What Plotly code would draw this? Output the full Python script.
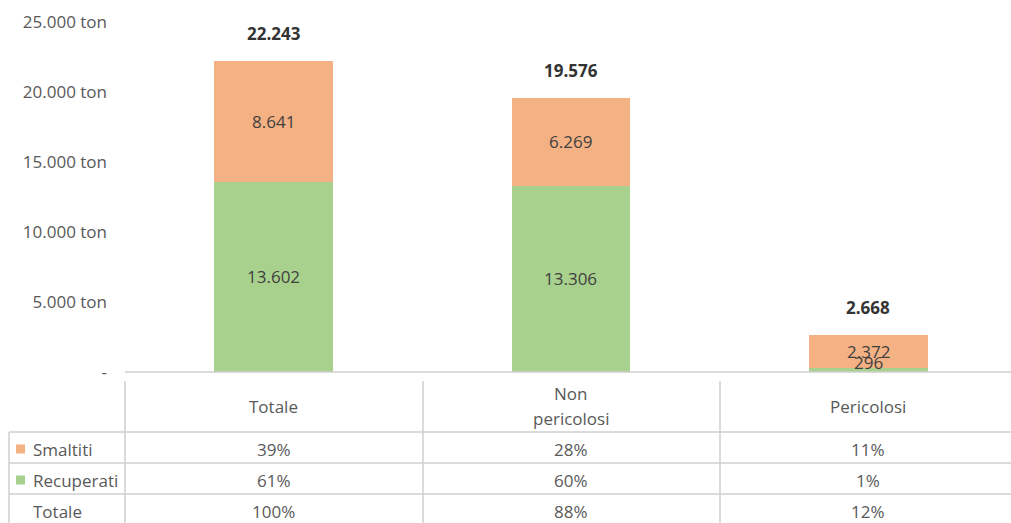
import plotly.graph_objects as go

categories = ["Totale", "Non pericolosi", "Pericolosi"]
header_labels = ["Totale", "Non<br>pericolosi", "Pericolosi"]
recuperati = [13602, 13306, 296]
smaltiti = [8641, 6269, 2372]
totali = [22243, 19576, 2668]
row_names = ["Smaltiti", "Recuperati", "Totale"]
pct_smaltiti = ["39%", "28%", "11%"]
pct_recuperati = ["61%", "60%", "1%"]
pct_totale = ["100%", "88%", "12%"]
tick_vals = [0, 5000, 10000, 15000, 20000, 25000]
tick_text = ["-", "5.000 ton", "10.000 ton", "15.000 ton", "20.000 ton", "25.000 ton"]

ORANGE = "#F4B183"
GREEN = "#A9D18E"
GRID = "#CFCFCF"
TXT = "#595959"
DARK = "#404040"
FONT = "Open Sans"

W, H = 1011, 523
L, R, T, B = 125, 0, 22, 151
PW = W - L - R
PH = H - T - B


def fmt(v):
    return f"{v:,}".replace(",", ".")


def py(p):  # pixel y -> paper y
    return (H - B - p) / PH


def px(p):  # pixel x -> paper x
    return (p - L) / PW


fig = go.Figure()
fig.add_trace(go.Bar(x=categories, y=recuperati, name="Recuperati",
                     marker=dict(color=GREEN, line=dict(width=0)), width=0.4,
                     hoverinfo="skip"))
fig.add_trace(go.Bar(x=categories, y=smaltiti, name="Smaltiti",
                     marker=dict(color=ORANGE, line=dict(width=0)), width=0.4,
                     hoverinfo="skip"))

ann = []
shapes = []


def txt(x, y, text, xref="x", yref="paper", size=17, color=TXT, xanchor="center"):
    return dict(x=x, y=y, xref=xref, yref=yref, text=text, showarrow=False,
                xanchor=xanchor, yanchor="middle",
                font=dict(family=FONT, size=size, color=color))


for i, c in enumerate(categories):
    # segment labels
    ann.append(txt(c, max(recuperati[i] / 2, 700), fmt(recuperati[i]), yref="y",
                   size=17, color=DARK))
    ann.append(txt(c, recuperati[i] + smaltiti[i] / 2, fmt(smaltiti[i]), yref="y",
                   size=17, color=DARK))
    tot = txt(c, totali[i], "<b>" + fmt(totali[i]) + "</b>", yref="y", size=17,
              color="#333333")
    tot["yshift"] = 27
    ann.append(tot)
    # table header
    lines = header_labels[i].split("<br>")
    if len(lines) == 1:
        ann.append(txt(c, py(406), lines[0]))
    else:
        ann.append(txt(c, py(393), lines[0]))
        ann.append(txt(c, py(418), lines[1]))
    # table rows
    for rowv, yp in ((pct_smaltiti, 449), (pct_recuperati, 480), (pct_totale, 512)):
        ann.append(txt(c, py(yp), rowv[i]))

# row labels
for name, yp in zip(row_names, (449, 480, 512)):
    ann.append(txt(px(31), py(yp), name, xref="paper", xanchor="left"))
for col, yp in ((ORANGE, 449), (GREEN, 480)):
    shapes.append(dict(type="rect", xref="paper", yref="paper",
                       x0=px(16), x1=px(25), y0=py(yp - 4.5), y1=py(yp + 4.5),
                       fillcolor=col, line=dict(width=0)))

# table grid
for xp in (125, 423, 720):
    shapes.append(dict(type="line", xref="paper", yref="paper",
                       x0=px(xp), x1=px(xp), y0=py(381), y1=py(523),
                       line=dict(color=GRID, width=1.5)))
shapes.append(dict(type="line", xref="paper", yref="paper",
                   x0=px(9), x1=px(9), y0=py(432), y1=py(523),
                   line=dict(color=GRID, width=1.5)))
for yp in (432, 463, 494):
    shapes.append(dict(type="line", xref="paper", yref="paper",
                       x0=px(9), x1=1, y0=py(yp), y1=py(yp),
                       line=dict(color=GRID, width=1.5)))
# baseline
shapes.append(dict(type="line", xref="paper", yref="paper",
                   x0=0, x1=1, y0=0, y1=0,
                   line=dict(color=GRID, width=1.5)))

fig.update_layout(
    width=W, height=H,
    margin=dict(l=L, r=R, t=T, b=B),
    barmode="stack",
    showlegend=False,
    hovermode=False,
    plot_bgcolor="white", paper_bgcolor="white",
    annotations=ann, shapes=shapes,
    font=dict(family=FONT, color=TXT),
    xaxis=dict(range=[-0.5, 2.48], showticklabels=False, showgrid=False,
               zeroline=False, showline=False, fixedrange=True),
    yaxis=dict(range=[0, 25000], tickvals=tick_vals, ticktext=tick_text,
               showgrid=False, zeroline=False, showline=False, automargin=False,
               tickfont=dict(family=FONT, size=17, color=TXT),
               ticklabelstandoff=17, fixedrange=True),
)

fig.write_html("out.html", config={"displayModeBar": False},
               post_script="document.body.style.margin='0px';")
